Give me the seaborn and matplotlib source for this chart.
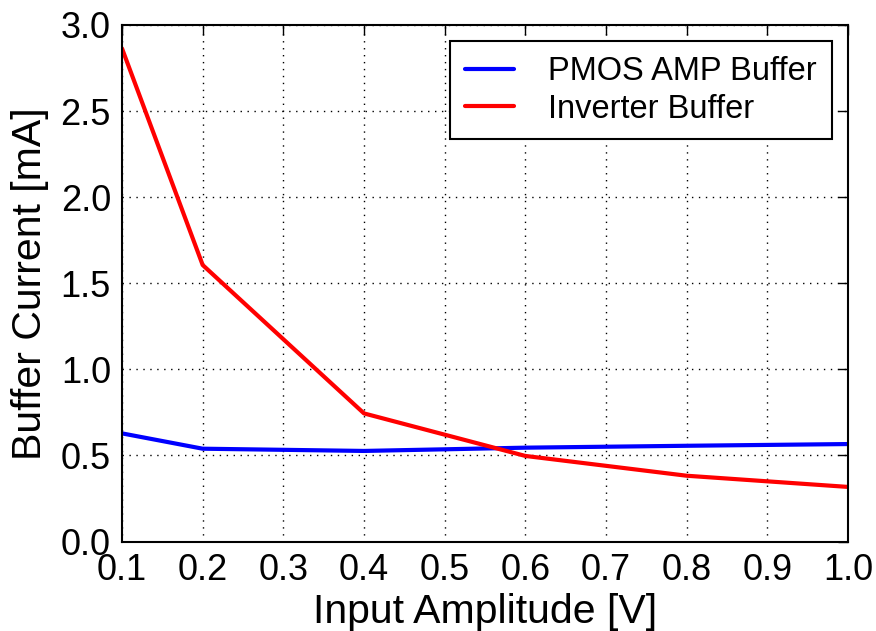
import matplotlib
matplotlib.use("Agg")
import matplotlib.pyplot as plt
import seaborn as sns
import pandas as pd

amplitude = [0.1, 0.2, 0.4, 0.6, 0.8, 1.0]
pmos_amp = [0.628, 0.539, 0.526, 0.545, 0.556, 0.566]
inverter = [2.864, 1.606, 0.744, 0.497, 0.382, 0.317]
series_names = ["PMOS AMP Buffer", "Inverter Buffer"]
x_ticks = [0.1, 0.2, 0.3, 0.4, 0.5, 0.6, 0.7, 0.8, 0.9, 1.0]
y_ticks = [0.0, 0.5, 1.0, 1.5, 2.0, 2.5, 3.0]

df = pd.DataFrame({
    "x": amplitude * 2,
    "y": pmos_amp + inverter,
    "series": [series_names[0]] * len(amplitude) + [series_names[1]] * len(amplitude),
})

sns.set_style("white", rc={"text.color": "black", "axes.labelcolor": "black",
                           "xtick.color": "black", "ytick.color": "black",
                           "axes.edgecolor": "black"})
plt.rcParams["font.family"] = ["Liberation Sans", "DejaVu Sans"]

fig = plt.figure(figsize=(8.76, 6.31), dpi=100)
ax = fig.add_axes([122 / 876, 1 - 541.5 / 631, (848 - 122) / 876, (541.5 - 25) / 631])

sns.lineplot(data=df, x="x", y="y", hue="series", palette=["#0000ff", "#ff0000"],
             linewidth=3, ax=ax, legend=True, sort=False)

ax.set_xlim(0.1, 1.0)
ax.set_ylim(0.0, 3.0)
ax.set_xticks(x_ticks)
ax.set_yticks(y_ticks)
ax.set_xticklabels([f"{v:.1f}" for v in x_ticks])
ax.set_yticklabels([f"{v:.1f}" for v in y_ticks])
ax.tick_params(axis="both", which="both", direction="in", top=True, right=True,
               length=7, width=1, labelsize=26, pad=8, color="black", labelcolor="black")
ax.grid(True, linestyle=(0, (1, 4)), color="black", linewidth=1)
for s in ax.spines.values():
    s.set_visible(True)
    s.set_color("black")
    s.set_linewidth(1.5)
ax.set_xlabel("Input Amplitude [V]", fontsize=29.5, labelpad=4, color="black")
ax.set_ylabel("Buffer Current [mA]", fontsize=29.5, labelpad=8, color="black")

leg = ax.legend(loc="upper right", fontsize=23.5, frameon=True, fancybox=False,
                edgecolor="black", framealpha=1, handlelength=1.5, borderpad=0.45,
                handletextpad=1.05, labelspacing=0.2, borderaxespad=0.5)
leg.get_frame().set_linewidth(1.5)
for t in leg.get_texts():
    t.set_color("black")
for h in leg.get_lines():
    h.set_linewidth(3)

fig.savefig("out.png", dpi=100)
